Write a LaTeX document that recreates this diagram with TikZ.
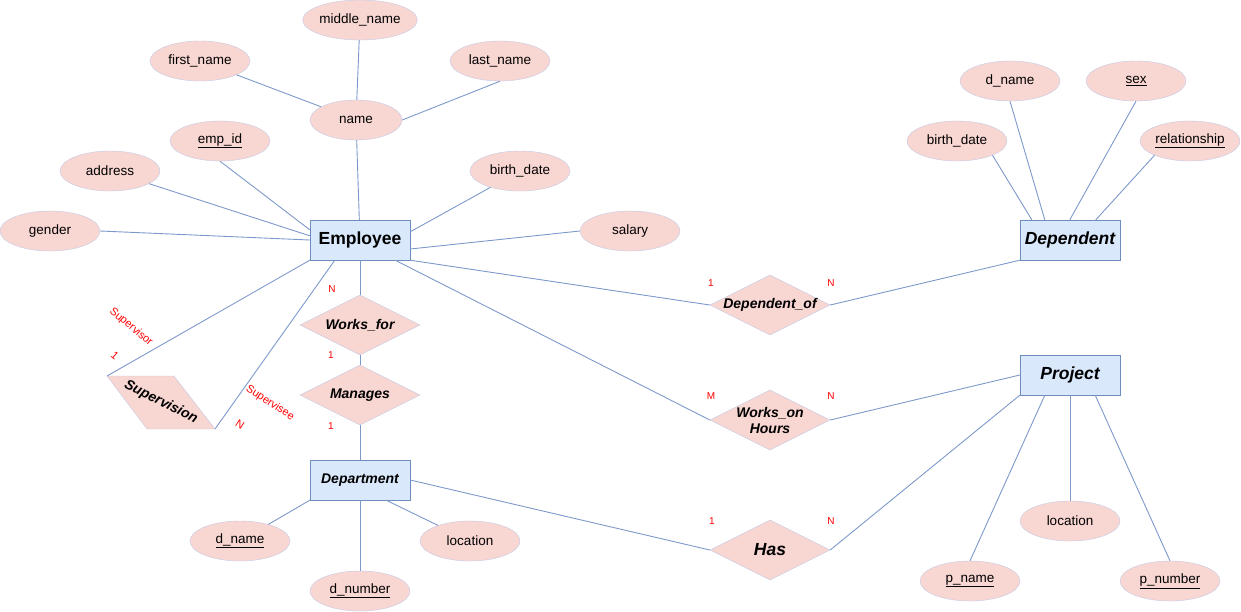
\documentclass[tikz,border=0pt]{standalone}
\usepackage{fontspec}
\setmainfont{Liberation Sans}
\usetikzlibrary{shapes.geometric,positioning}

\definecolor{attrfill}{HTML}{F8D6D2}
\definecolor{attrline}{HTML}{C6C9E6}
\definecolor{entfill}{HTML}{DAE8FC}
\definecolor{entline}{HTML}{6C8EBF}
\definecolor{linkline}{HTML}{7D99CB}

\begin{document}
\begin{tikzpicture}[x=1pt, y=-1pt, node distance=70pt, on grid,
    every node/.style={font=\fontsize{13.5}{16}\selectfont},
    attr/.style={ellipse, draw=attrline, fill=attrfill, minimum width=100pt,
                 minimum height=40pt, inner sep=0pt},
    entity/.style={rectangle, draw=entline, fill=entfill, minimum width=100pt,
                   minimum height=40pt, inner sep=0pt,
                   font=\fontsize{17.5}{20}\selectfont\bfseries\itshape},
    relation/.style={diamond, draw=attrline, fill=attrfill, minimum width=120pt,
                     minimum height=60pt, inner sep=0pt},
    rtext/.style={font=\fontsize{14}{16}\selectfont\bfseries\itshape, align=center},
    card/.style={text=red, font=\fontsize{10}{12}\selectfont, inner sep=0pt},
    role/.style={card, font=\fontsize{11}{13}\selectfont},
    link/.style={draw=linkline, line width=0.9pt}]
    %\draw[help lines] (0,0) grid (1241,611);
    \useasboundingbox (0,0) rectangle (1241,611);

   % Entities
   \node[entity, font=\fontsize{17.5}{20}\selectfont\bfseries] (employee) at (360,240) {Employee};
   \node[entity]  (dependent)  at (1070,240) {Dependent};
   \node[entity]  (project)    at (1070,375) {Project};

   % Relationships
   \node[relation, label={[rtext]center:Works\_for}] (works_for) at (360,325) {};
   \node[relation, label={[rtext]center:Manages}]   (manages)   [below=of works_for] {};
   \node[entity, font=\fontsize{14}{16}\selectfont\bfseries\itshape]
                                                      (department) [below=85pt of manages] {Department};
   \node[relation, label={[rtext]center:Dependent\_of}] (dependent_of) at (770,305) {};
   \node[relation, label={[rtext]center:Works\_on\\Hours}] (works_on) at (770,420) {};
   \node[relation, label={[rtext, font=\fontsize{17.5}{20}\selectfont\bfseries\itshape]center:Has}]
                                                      (has) at (770,550) {};

   % Employee attributes
   \node[attr]  (middle_name) at (360,20)  {middle\_name};
   \node[attr]  (first_name)  at (200,61)  {first\_name};
   \node[attr]  (last_name)   at (500,61)  {last\_name};
   \node[attr, minimum width=92pt] (name) at (356,120) {name};
   \node[attr]  (emp_id)      at (220,141) {\underline{emp\_id}};
   \node[attr]  (address)     at (110,171) {address};
   \node[attr]  (birth_date)  at (520,171) {birth\_date};
   \node[attr]  (gender)      at (50,231)  {gender};
   \node[attr]  (salary)      at (630,231) {salary};

   % Department attributes
   \node[attr]  (d_name)      at (240,541) {\underline{d\_name}};
   \node[attr]  (d_location)  at (470,541) {location};
   \node[attr]  (d_number)    [below=111pt of department] {\underline{d\_number}};

   % Dependent attributes
   \node[attr]  (dep_name)     at (1010,81)  {d\_name};
   \node[attr]  (dep_sex)      at (1136,81)  {\underline{sex}};
   \node[attr]  (dep_birth)    at (957,141)  {birth\_date};
   \node[attr]  (dep_relation) at (1190,141) {\underline{relationship}};

   % Project attributes
   \node[attr]  (p_location)  at (1070,521) {location};
   \node[attr]  (p_name)      at (970,581)  {\underline{p\_name}};
   \node[attr]  (p_number)    at (1170,581) {\underline{p\_number}};

   % Supervision (recursive)
   \coordinate (sv1) at (107,376);
   \coordinate (sv2) at (174,376);
   \coordinate (sv3) at (215,429);
   \coordinate (sv4) at (147,429);
   \draw[draw=attrline, fill=attrfill] (sv1) -- (sv2) -- (sv3) -- (sv4) -- cycle;
   \node[rtext, rotate=-27] (supervision) at (161,402) {Supervision};

   % Define connections
   \path[link]
    (middle_name) edge (name)
    (first_name)  edge (name)
    (last_name.south) edge (name.east)
    (name)        edge (employee)
    (emp_id.south) edge ([yshift=-10pt]employee.north west)
    (address)     edge ([yshift=-16pt]employee.north west)
    (gender.east) edge (employee.west)
    (birth_date)  edge ([yshift=-12pt]employee.north east)
    (salary.west) edge ([yshift=-9pt]employee.east)
    (employee.south west) edge (sv1)
    ([xshift=25pt]employee.south west) edge (sv3)
    (employee.south) edge (works_for.north)
    (works_for.south) edge (manages.north)
    (manages.south) edge (department.north)
    (employee.south east) edge (dependent_of.west)
    ([xshift=-15pt]employee.south east) edge (works_on.west)
    (dependent_of.east) edge (dependent.south west)
    (works_on.east) edge (project.west)
    (has.east) edge (project.south west)
    (department.east) edge (has.west)
    (department.south west) edge (d_name)
    ([xshift=-24pt]department.south east) edge (d_location)
    (department.south) edge (d_number.north)
    (dep_birth.south east) edge ([xshift=12pt]dependent.north west)
    (dep_name.south) edge ([xshift=25pt]dependent.north west)
    (dep_sex.south) edge ([xshift=50pt]dependent.north west)
    (dep_relation.south west) edge ([xshift=76pt]dependent.north west)
    (p_name.north) edge ([xshift=25pt]project.south west)
    (p_location.north) edge (project.south)
    (p_number.north) edge ([xshift=-25pt]project.south east);

   % Cardinalities
   \node[role, rotate=-40] (c_supervisor) at (131,327) {Supervisor};
   \node[role, rotate=-40] (c_sup_one)    at (115,356) {1};
   \node[role, rotate=-33] (c_supervisee) at (270,403) {Supervisee};
   \node[role, rotate=-33] (c_sup_n)      at (240,424) {N};
   \node[card] (c_wf_n)   at (332,289) {N};
   \node[card] (c_wf_one) at (331,355) {1};
   \node[card] (c_mg_one) at (331,426) {1};
   \node[card] (c_do_one) at (711,283) {1};
   \node[card] (c_do_n)   at (831,283) {N};
   \node[card] (c_wo_m)   at (711,396) {M};
   \node[card] (c_wo_n)   at (831,396) {N};
   \node[card] (c_has_one) at (712,521) {1};
   \node[card] (c_has_n)   at (831,521) {N};

\end{tikzpicture}
\end{document}
